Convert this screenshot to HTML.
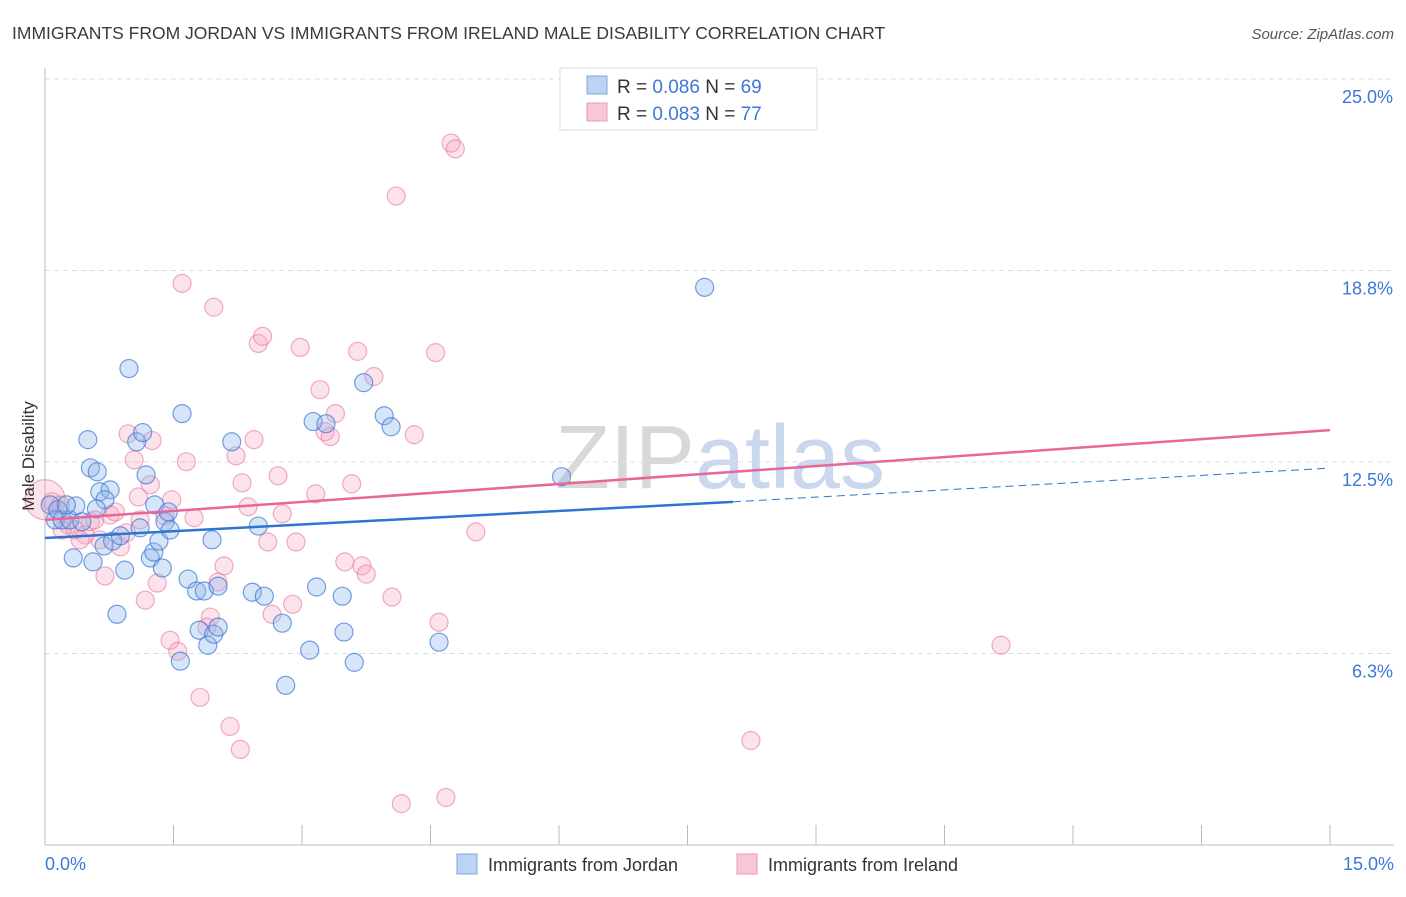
<!DOCTYPE html>
<html><head><meta charset="utf-8"><style>
body{margin:0;background:#fff;font-family:"Liberation Sans",sans-serif}
svg text{font-family:"Liberation Sans",sans-serif}
</style></head><body>
<svg id="c" width="1406" height="892">
<text x="12" y="39" font-size="17.5" fill="#3a3a3a">IMMIGRANTS FROM JORDAN VS IMMIGRANTS FROM IRELAND MALE DISABILITY CORRELATION CHART</text>
<text x="1394" y="39" font-size="15" fill="#555" font-style="italic" text-anchor="end">Source: ZipAtlas.com</text>
<text x="720" y="488" font-size="90" fill="#dfe3ea" text-anchor="middle" font-family="Liberation Serif"><tspan fill="#d8d8d8">ZIP</tspan><tspan fill="#c9d8ee" font-family="Liberation Sans">atlas</tspan></text>
<g id="grid"></g><g id="axes"></g><g id="pts"></g><g id="lines"></g>
<text transform="translate(34,456) rotate(-90)" font-size="17" fill="#333" text-anchor="middle">Male Disability</text>
<g>
<rect x="560" y="68" width="257" height="62" fill="#fff" stroke="#ddd"/>
<rect x="587" y="76" width="20" height="18" fill="#bcd3f3" stroke="#7fa5dd"/>
<rect x="587" y="103" width="20" height="18" fill="#f8c7d6" stroke="#eb9ab2"/>
<text x="617" y="93" font-size="19" fill="#333">R = <tspan fill="#3c78d8">0.086</tspan>   N = <tspan fill="#3c78d8">69</tspan></text>
<text x="617" y="120" font-size="19" fill="#333">R = <tspan fill="#3c78d8">0.083</tspan>   N = <tspan fill="#3c78d8">77</tspan></text>
</g>
<g>
<rect x="457" y="854" width="20" height="20" fill="#bcd3f3" stroke="#7fa5dd"/>
<text x="488" y="871" font-size="18" fill="#333">Immigrants from Jordan</text>
<rect x="737" y="854" width="20" height="20" fill="#f8c7d6" stroke="#eb9ab2"/>
<text x="768" y="871" font-size="18" fill="#333">Immigrants from Ireland</text>
</g>
</svg>
<script>
const yTicks=[6.25,12.5,18.75,25];
const yTickLabels=["6.3%","12.5%","18.8%","25.0%"];
const xTicks=[0,1.5,3,4.5,6,7.5,9,10.5,12,13.5,15];
const blueX=[0.06,0.12,0.20,0.29,0.15,0.50,0.53,0.61,0.64,0.76,0.70,0.36,0.43,0.33,0.56,0.69,0.79,0.88,0.93,0.84,0.98,1.07,1.14,1.18,1.11,1.28,1.23,1.27,1.33,1.37,1.40,1.46,1.44,1.60,1.67,1.77,1.86,1.95,2.02,2.18,2.49,2.42,2.56,1.80,1.90,1.97,2.02,1.58,2.77,2.81,3.09,3.17,3.13,3.28,3.47,3.49,3.61,3.72,3.96,4.04,6.03,4.60,7.70,0.60,0.25];
const blueY=[11.10,10.61,10.61,10.61,10.94,13.23,12.31,12.18,11.53,11.59,11.27,11.07,10.55,9.37,9.24,9.76,9.92,10.09,8.97,7.53,15.55,13.16,13.46,12.08,10.35,11.10,9.37,9.56,9.92,9.04,10.55,10.28,10.87,14.08,8.68,8.29,8.29,9.96,8.45,13.16,10.41,8.25,8.12,7.01,6.52,6.88,7.11,6.00,7.24,5.21,6.36,8.42,13.82,13.75,8.12,6.95,5.96,15.09,14.01,13.65,12.02,6.62,18.20,10.97,11.10];
const pinkX=[0.00,0.08,0.18,0.27,0.35,0.47,0.53,0.58,0.70,0.76,0.82,0.88,0.95,0.97,1.04,1.09,1.17,1.23,1.25,1.31,1.40,1.48,1.46,1.55,1.60,1.65,1.74,1.81,1.89,1.97,1.93,2.02,2.09,2.16,2.23,2.28,2.30,2.37,2.44,2.49,2.54,2.60,2.65,2.72,2.77,2.89,2.93,2.98,3.16,3.21,3.27,3.33,3.39,3.50,3.58,3.65,3.70,3.75,3.84,4.05,4.10,4.16,4.31,4.56,4.60,4.68,4.74,4.79,5.03,8.24,11.16,0.20,0.41,0.64,1.11];
const pinkY=[11.27,11.20,11.10,10.45,10.28,10.12,10.55,10.61,8.78,10.77,10.87,9.73,10.19,13.42,12.57,11.36,7.99,11.76,13.20,8.55,10.74,11.27,6.68,6.32,18.33,12.51,10.68,4.82,7.11,17.55,7.44,8.58,9.11,3.87,12.70,3.12,11.82,11.04,13.23,16.37,16.60,9.89,7.53,12.05,10.81,7.86,9.89,16.24,11.46,14.86,13.49,13.33,14.08,9.24,11.79,16.11,9.11,8.84,15.29,8.09,21.18,1.35,13.39,16.07,7.27,1.55,22.91,22.72,10.22,3.41,6.52,10.28,9.96,9.96,10.61];
const blueTrend=[[0,10.02],[8.03,11.20]];
const blueTrendDash=[[8.03,11.20],[15,12.30]];
const pinkTrend=[[0,10.61],[15,13.54]];
const X0=45,X1=1330,Y0=845,PX=30.64;
const sx=v=>X0+(X1-X0)*v/15, sy=v=>Y0-v*PX;
const NS="http://www.w3.org/2000/svg";
function mk(t,a,p){const e=document.createElementNS(NS,t);for(const k in a)e.setAttribute(k,a[k]);p.appendChild(e);return e;}
const grid=document.getElementById('grid'),axes=document.getElementById('axes'),pts=document.getElementById('pts'),lines=document.getElementById('lines');
yTicks.forEach((v,i)=>{
 const l=mk('line',{x1:X0,x2:1394,y1:sy(v),y2:sy(v),stroke:'#ddd','stroke-dasharray':'5,4'},grid);
 
 
 const t=mk('text',{x:1393,y:sy(v)+24,'font-size':18,fill:'#3c78d8','text-anchor':'end'},axes);
 t.textContent=yTickLabels[i];
 
 
});
const ya=mk('line',{x1:X0,x2:X0,y1:68,y2:Y0,stroke:'#bbb'},axes);


const xa=mk('line',{x1:X0,x2:1394,y1:Y0,y2:Y0,stroke:'#bbb'},axes);


xTicks.forEach(v=>{
 const t=mk('line',{x1:sx(v),x2:sx(v),y1:Y0-20,y2:Y0,stroke:'#bbb'},axes);
 
 
});
const xl0=mk('text',{x:45,y:870,'font-size':18,fill:'#3c78d8'},axes);xl0.textContent='0.0%';


const xl1=mk('text',{x:1394,y:870,'font-size':18,fill:'#3c78d8','text-anchor':'end'},axes);xl1.textContent='15.0%';


pinkX.forEach((v,i)=>{
 const c=mk('circle',{cx:sx(v),cy:sy(pinkY[i]),r:i===0?20:9,fill:'rgba(245,160,190,0.3)',stroke:'rgba(232,120,155,0.6)','stroke-width':1.2},pts);
 
 
});
blueX.forEach((v,i)=>{
 const c=mk('circle',{cx:sx(v),cy:sy(blueY[i]),r:9,fill:'rgba(140,180,235,0.35)',stroke:'rgba(60,120,210,0.7)','stroke-width':1.2},pts);
 
 
});
function ln(d,col,w,dash,name){const l=mk('line',{x1:sx(d[0][0]),y1:sy(d[0][1]),x2:sx(d[1][0]),y2:sy(d[1][1]),stroke:col,'stroke-width':w},lines);if(dash)l.setAttribute('stroke-dasharray',dash);
 
 }
ln(pinkTrend,'#e8679a',2.5,null,'ireland-trendline');
ln(blueTrend,'#2f74d0',2.5,null,'jordan-trendline');
ln(blueTrendDash,'#2f74d0',1,'8,5','jordan-trendline-extension');
</script>
</body></html>
